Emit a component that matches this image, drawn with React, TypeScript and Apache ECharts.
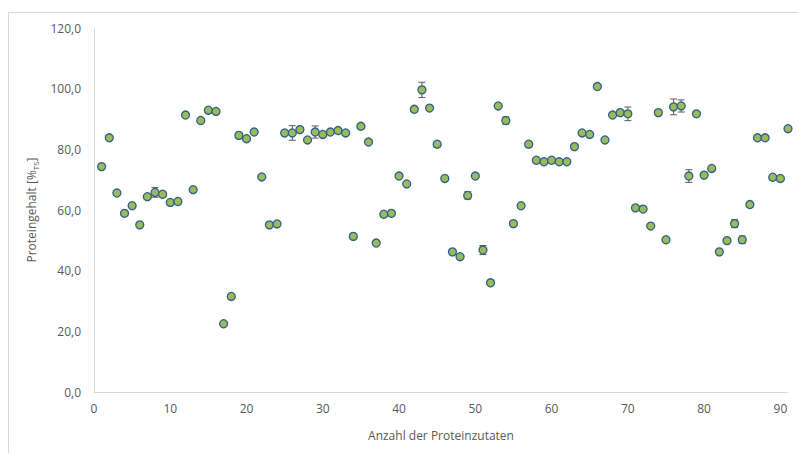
import React, { useEffect, useRef } from "react";
import * as echarts from "echarts";

// Anzahl der Proteinzutaten (x) and Proteingehalt (y)
const xValues: number[] = Array.from({ length: 91 }, (_, i) => i + 1);
const proteinValues: number[] = [
  74.3, 83.8, 65.6, 58.9, 61.4, 55.1, 64.4, 65.8, 65.2, 62.5,
  62.8, 91.3, 66.7, 89.5, 92.9, 92.5, 22.5, 31.5, 84.6, 83.5,
  85.7, 70.9, 55.1, 55.4, 85.4, 85.4, 86.5, 83.1, 85.7, 84.9,
  85.7, 86.2, 85.4, 51.3, 87.6, 82.4, 49.1, 58.6, 58.9, 71.2,
  68.6, 93.2, 99.6, 93.6, 81.7, 70.4, 46.2, 44.6, 64.8, 71.2,
  46.8, 36.0, 94.3, 89.5, 55.5, 61.4, 81.7, 76.4, 75.9, 76.4,
  75.9, 75.9, 80.9, 85.4, 84.9, 100.7, 83.1, 91.3, 92.1, 91.7,
  60.7, 60.3, 54.7, 92.1, 50.2, 94.0, 94.3, 71.2, 91.7, 71.5,
  73.7, 46.2, 49.9, 55.5, 50.2, 61.8, 83.8, 83.8, 70.8, 70.4,
  86.8,
];
const errorValues: number[] = [
  0, 0, 0, 0, 0, 0, 0, 1.6, 0, 0,
  0, 0, 0, 0, 0, 0, 0, 0, 0, 0,
  0, 0, 0, 0, 0, 2.4, 0, 0, 2.0, 0,
  0, 0, 0, 0, 0, 0, 0, 0, 0, 0,
  0, 0, 2.5, 0, 0, 0, 0, 0, 1.2, 0,
  1.5, 0.9, 0, 1.2, 0, 0, 0, 0, 0, 0,
  0, 0, 0, 0, 0, 0, 0, 0, 0, 2.25,
  0, 0, 0, 0, 0, 2.6, 2.0, 2.1, 0, 0,
  0, 0, 0, 1.3, 1.2, 0, 0, 0, 0, 0,
  0,
];
const yTicks: number[] = [0, 20, 40, 60, 80, 100, 120];
const xTicks: number[] = [0, 10, 20, 30, 40, 50, 60, 70, 80, 90];

const FONT = "'Open Sans', 'Liberation Sans', sans-serif";
const TEXT = "#595959";

export default function App() {
  const ref = useRef<HTMLDivElement>(null);
  useEffect(() => {
    if (!ref.current) return;
    const chart = echarts.init(ref.current, undefined, { renderer: "svg" });
    const points = xValues.map((x, i) => [x, proteinValues[i]]);
    const errs = xValues.map((x, i) => [x, proteinValues[i], errorValues[i]]);
    chart.setOption({
      animation: false,
      backgroundColor: "#ffffff",
      textStyle: { fontFamily: FONT },
      graphic: [
        {
          type: "rect",
          shape: { x: 8.5, y: 12.5, width: 800, height: 450 },
          style: { fill: "none", stroke: "#d9d9d9", lineWidth: 1 },
          silent: true,
        },
      ],
      grid: { left: 94, right: 10, top: 28, bottom: 61 },
      xAxis: {
        type: "value",
        min: 0,
        max: 91,
        interval: 10,
        name: "Anzahl der Proteinzutaten",
        nameLocation: "middle",
        nameGap: 37,
        nameTextStyle: { color: TEXT, fontSize: 12, fontFamily: FONT },
        axisLine: { show: true, lineStyle: { color: "#d9d9d9", width: 1 } },
        axisTick: { show: false },
        splitLine: { show: false },
        axisLabel: {
          color: TEXT,
          fontSize: 12,
          fontFamily: FONT,
          margin: 10,
          formatter: (v: number) => (xTicks.includes(v) ? String(v) : ""),
        },
      },
      yAxis: {
        type: "value",
        min: yTicks[0],
        max: yTicks[yTicks.length - 1],
        interval: 20,
        name: "{a|Proteingehalt [%}{b|TS}{a|]}",
        nameLocation: "middle",
        nameGap: 45,
        nameRotate: 90,
        nameTextStyle: {
          color: TEXT,
          fontSize: 12,
          fontFamily: FONT,
          rich: {
            a: { fontSize: 12, color: TEXT, fontFamily: FONT, lineHeight: 16 },
            b: { fontSize: 8, color: TEXT, fontFamily: FONT, lineHeight: 10, verticalAlign: "bottom" },
          },
        },
        axisLine: { show: true, lineStyle: { color: "#d9d9d9", width: 1 } },
        axisTick: { show: false },
        splitLine: { show: false },
        axisLabel: {
          color: TEXT,
          fontSize: 12,
          fontFamily: FONT,
          margin: 13,
          formatter: (v: number) => v.toFixed(1).replace(".", ","),
        },
      },
      series: [
        {
          type: "custom",
          z: 1,
          data: errs,
          renderItem: (params: any, api: any) => {
            const x = api.value(0);
            const y = api.value(1);
            const e = api.value(2);
            if (!e) return null;
            const top = api.coord([x, y + e]);
            const bot = api.coord([x, y - e]);
            const hw = 3.5;
            const style = { stroke: "#595959", lineWidth: 1 };
            return {
              type: "group",
              children: [
                { type: "line", shape: { x1: top[0], y1: top[1], x2: bot[0], y2: bot[1] }, style },
                { type: "line", shape: { x1: top[0] - hw, y1: top[1], x2: top[0] + hw, y2: top[1] }, style },
                { type: "line", shape: { x1: bot[0] - hw, y1: bot[1], x2: bot[0] + hw, y2: bot[1] }, style },
              ],
            };
          },
        },
        {
          type: "scatter",
          z: 2,
          data: points,
          symbol: "circle",
          symbolSize: 8,
          itemStyle: { color: "#9bbb59", borderColor: "#2f5f8c", borderWidth: 1.3, opacity: 1 },
        },
      ],
    });
    return () => chart.dispose();
  }, []);
  return (
    <div
      ref={ref}
      style={{ position: "fixed", left: 0, top: 0, width: 798, height: 453 }}
    />
  );
}
